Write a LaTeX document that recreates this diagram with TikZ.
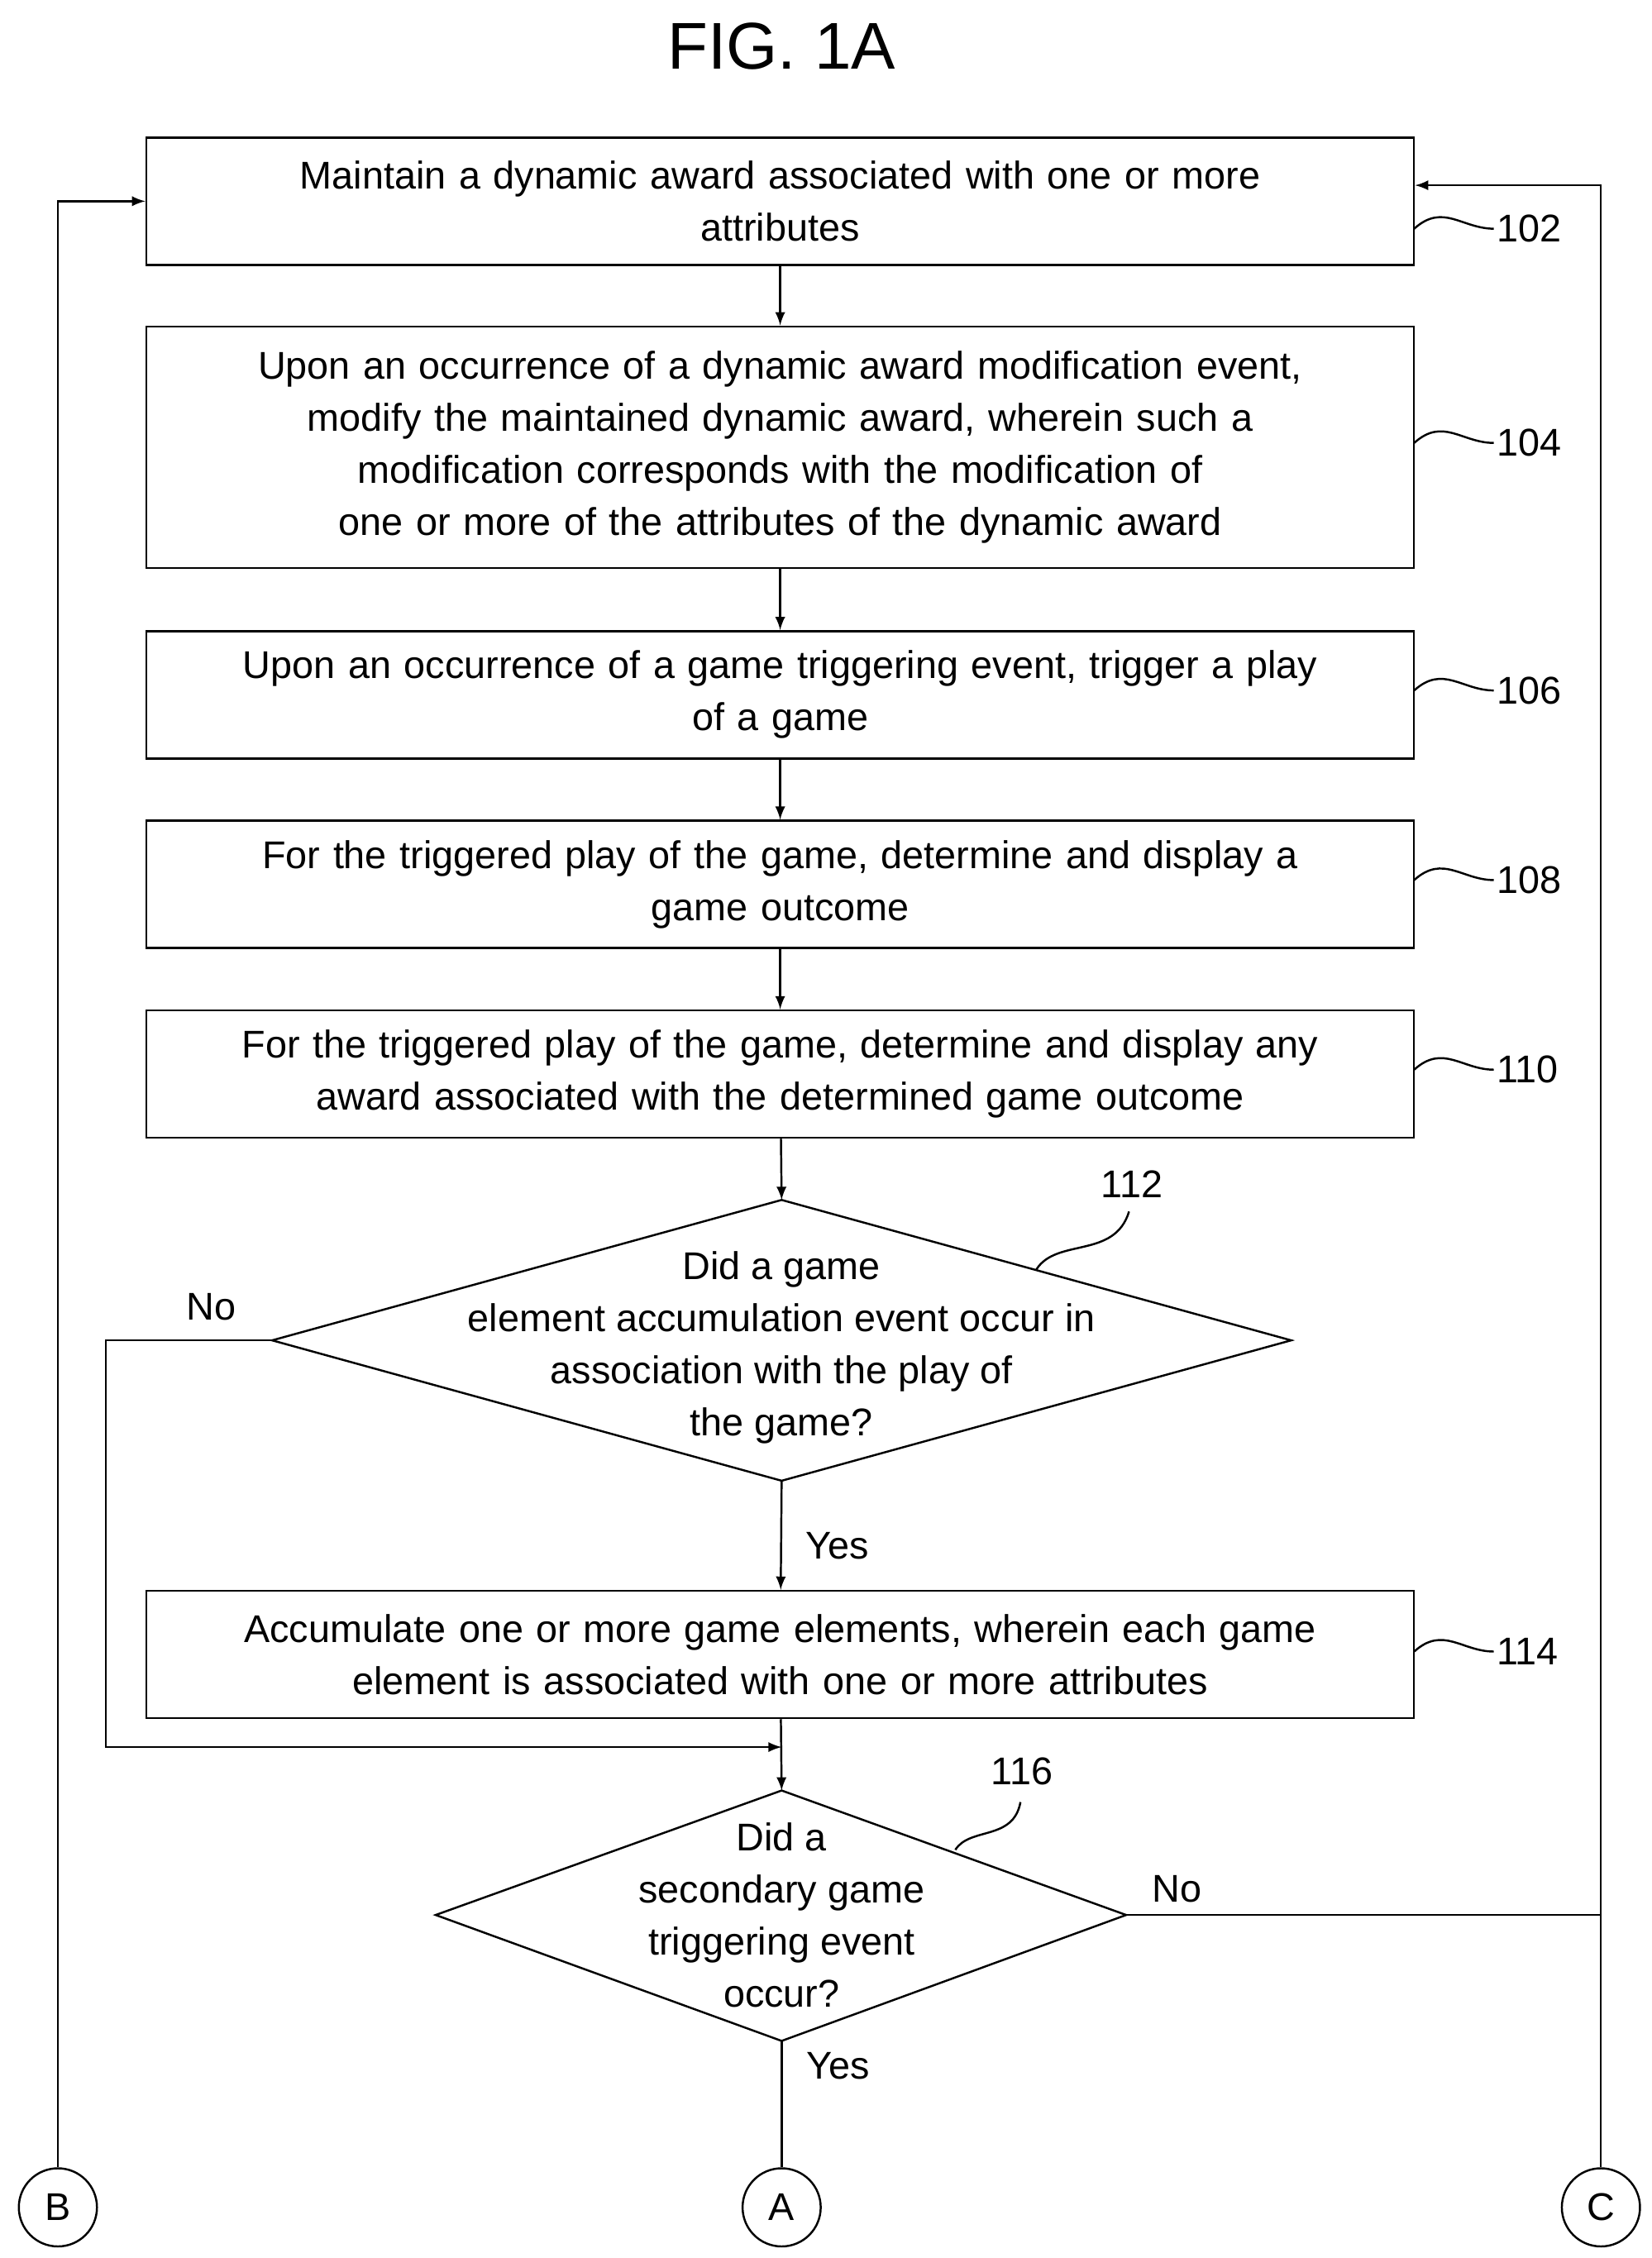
\documentclass[tikz,border=0pt]{standalone}
\usepackage{fontspec}
\setmainfont{Liberation Sans}
\usetikzlibrary{arrows,positioning,shapes.geometric}
\tikzset{
  proc/.style={draw,thick,minimum width=17.52cm,minimum height=1.76cm,text width=17.2cm,align=center,inner sep=0pt},
  test/.style={align=center,inner sep=0pt},
  conn/.style={draw,thick,circle,minimum size=1.08cm,inner sep=0pt},
  flow/.style={->,>=latex,thick},
  refnum/.style={anchor=west,inner sep=1pt}
}
\newcommand{\squig}[2]{%
  \draw[thick] (#1) .. controls +(20,-18) and +(-22,0) .. ++(55,0) coordinate (#2);}
\begin{document}
\begin{tikzpicture}[x=0.02cm,y=-0.02cm,font=\fontsize{15.2}{20.5}\selectfont]
  \useasboundingbox (0,0) rectangle (1141,1560);
  \node (title) at (540,32) {\fontsize{26}{30}\selectfont FIG. 1A};

  \node[proc] (s102) at (539,139) {Maintain a dynamic award associated with one or more\\attributes};
  \node[proc,minimum height=3.34cm] (s104) at (539,309) {Upon an occurrence of a dynamic award modification event,\\modify the maintained dynamic award, wherein such a\\modification corresponds with the modification of\\one or more of the attributes of the dynamic award};
  \node[proc] (s106) at (539,480) {Upon an occurrence of a game triggering event, trigger a play\\of a game};
  \node[proc] (s108) at (539,611) {For the triggered play of the game, determine and display a\\game outcome};
  \node[proc] (s110) at (539,742) {For the triggered play of the game, determine and display any\\award associated with the determined game outcome};
  \node[test] (d112) at (540,931) {Did a game\\element accumulation event occur in\\association with the play of\\the game?};
  \coordinate (d112t) at (540,829); \coordinate (d112b) at (540,1023);
  \coordinate (d112l) at (188,926); \coordinate (d112r) at (892,926);
  \draw[thick] (d112t) -- (d112r) -- (d112b) -- (d112l) -- cycle;
  \node[proc] (s114) at (539,1143) {Accumulate one or more game elements, wherein each game\\element is associated with one or more attributes};
  \node[test] (d116) at (540,1323) {Did a\\secondary game\\triggering event\\occur?};
  \coordinate (d116t) at (540,1237); \coordinate (d116b) at (540,1410);
  \coordinate (d116l) at (301,1323); \coordinate (d116r) at (778,1323);
  \draw[thick] (d116t) -- (d116r) -- (d116b) -- (d116l) -- cycle;

  \node[conn] (cb) at (40,1525) {B};
  \node[conn] (ca) at (540,1525) {A};
  \node[conn] (cc) at (1106,1525) {C};

  \draw[flow] (s102) -- (s104);
  \draw[flow] (s104) -- (s106);
  \draw[flow] (s106) -- (s108);
  \draw[flow] (s108) -- (s110);
  \draw[flow] (s110) -- (d112t);
  \draw[flow] (d112b) -- node[right,xshift=6pt,pos=0.6] {Yes} (s114);
  \coordinate (join) at (540,1207);
  \draw[flow] (s114) -- (d116t);
  \draw[flow] (d112l) -- (73,926) |- (join);
  \node (no112) at (146,903) {No};
  \draw[thick] (d116b) -- node[right,xshift=6pt,pos=0.2] {Yes} (ca);
  \draw[thick] (d116r) -- (1106,1323);
  \node (no116) at (813,1305) {No};
  \draw[flow] (cc) |- (s102.east |- 0,128);
  \draw[flow] (cb) |- (s102.west);

  % reference numbers
  \squig{977,158}{r102} \node[refnum] at (r102) {102};
  \squig{977,306}{r104} \node[refnum] at (r104) {104};
  \squig{977,477}{r106} \node[refnum] at (r106) {106};
  \squig{977,608}{r108} \node[refnum] at (r108) {108};
  \squig{977,739}{r110} \node[refnum] at (r110) {110};
  \squig{977,1141}{r114} \node[refnum] at (r114) {114};
  \draw[thick] (716,877) .. controls (730,855) and (770,870) .. (780,837);
  \node (r112) at (782,818) {112};
  \draw[thick] (660,1278) .. controls (670,1262) and (700,1272) .. (705,1245);
  \node (r116) at (706,1224) {116};
\end{tikzpicture}
\end{document}
